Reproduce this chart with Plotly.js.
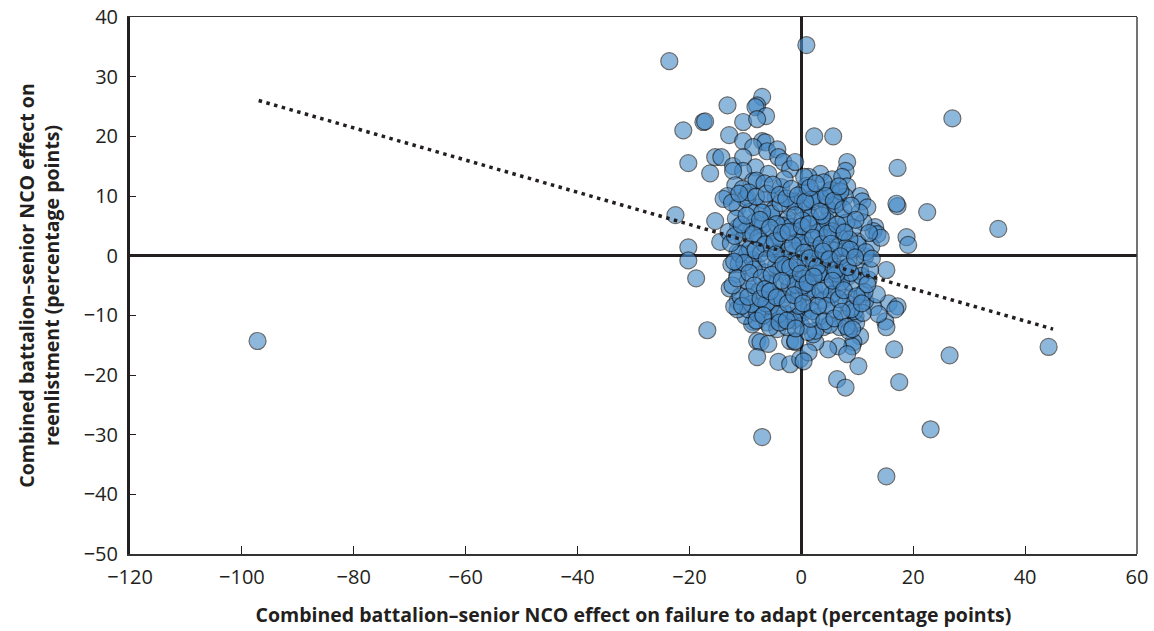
<!DOCTYPE html>
<html>
<head>
<meta charset="utf-8">
<script src="https://cdn.plot.ly/plotly-3.0.1.min.js"></script>
<style>
  html, body { margin: 0; padding: 0; background: #fff; }
  #chart { width: 1154px; height: 631px; }
</style>
</head>
<body>
<div id="chart"></div>
<script>
// Battalion–senior NCO combined effects: failure to adapt (x) vs. reenlistment (y), percentage points
const failureToAdapt = [
  // outlying pairs
  -97.2, -23.6, 0.9, 27.0, 35.2, 44.2, 26.5, 23.1, 15.2, -7.0, -21.1, -20.2, -22.5, -20.2, -20.2, -18.8, -16.8,
  22.5, 17.2, 17.2, 17.0, 18.8, 19.1, 15.2, 15.6, 17.2, 15.0, 15.2, 16.6, 17.5,
  // upper fringe
  -13.2, -7.0, -7.9, -8.2, -6.3, -10.4, -7.9, -17.5, -17.2, 2.3, 5.7, -12.9, -10.4, -7.0, -6.4, -8.6,
  -15.4, -14.3, -16.3, -12.2, -10.4, -6.1, -4.3, -4.1, -8.2, -10.4, -12.2, -11.8, -13.2, -8.6, -5.9, -3.2, -2.0,
  8.2, 7.9, 3.4, -1.1, 5.5, 7.3, 8.2, 1.3, 10.5, 4.8, 2.5, 0.2,
  // left half of the cluster
  -13.9, -15.4, -14.5, -11.4, -11.3, -11.4, -11.4, -11.4, -7.9, -5.2, -8.8, -7.3, -9.7, -7.9, -9.5, -7.7,
  -4.3, -4.1, -2.5, -2.0, -4.6, -1.4, -2.5, -5.0, -0.7, -9.7,
  // right half of the cluster
  10.9, 11.8, 13.2, 12.9, 13.6, 11.1, 10.0, 11.4, 10.5, 9.1, 6.6, 4.8, 7.3, 1.3, 0.2, 2.5, 4.8, 6.6, 8.2, 6.4,
  3.8, 1.3, -0.5, 2.5, 5.5, 8.8, 10.9, 12.9, 11.4, 3.8, 2.0, -1.1, 4.6,
  // lower fringe
  -8.6, -8.8, -10.0, -7.9, -7.3, -5.9, -7.9, -4.1, -2.0, -5.0, -3.8, -2.0, -0.7, -2.0, -1.1, -0.2, -11.4, -9.5, -7.0,
  0.4, 7.3, 9.7, 13.8, 16.8, 10.5, 9.3, 9.1, 6.6, 4.8, 2.5, 1.3, 0.4, -1.1, 8.2, 10.2, 6.4, 7.9, 3.9, 2.1,
  -12.5, -12.8, -13.0, -12.0, 12.0, 13.5, 12.5, 14.2,
  // dense core
  -10.5, -9.1, -8.3, -6.7, -5.8, -4.9, -3.6, -3.1, -2.4, -1.6, -0.8, 0.3, 1.1, 1.9, 2.7, 3.5, 4.2, 5.1, 5.9, 6.8,
  7.6, 8.4, 9.3, 10.1, -11.2, -10.4, -9.6, -8.7, -7.5, -6.4, -5.5, -4.7, -3.8, -2.9, -2.1, -1.2, -0.4, 0.6, 1.4, 2.3,
  3.2, 4.0, 4.9, 5.7, 6.5, 7.3, 8.1, 9.0, 9.8, 10.7, 11.5, -11.7, -10.9, -10.0, -9.2, -8.0, -7.2, -6.1, -5.2, -4.3,
  -3.3, -2.6, -1.7, -0.9, 0.0, 0.9, 1.7, 2.5, 3.4, 4.3, 5.2, 6.0, 6.9, 7.8, 8.6, 9.5, 10.4, 11.3, 12.1, -12.3,
  -7.9, -6.9, -5.0, -4.1, -3.4, -2.2, -1.4, -0.2, 0.8, 1.6, 2.4, 3.1, 3.9, 4.6, 5.4, 6.2, 7.1, 7.9, 8.8, -9.9,
  -8.5, -7.7, -6.0, -5.4, -4.5, -3.7, -2.8, -1.9, -1.0, 0.2, 1.0, 1.8, 2.9, 3.7, 4.5, 5.5, 6.3, 7.0, 8.0, -11.0,
  -6.6, -3.0, 0.5, 4.0, -8.9, -6.3, -2.5, 1.2, 5.0, 8.5, 11.0, 12.3, -12.6, -0.5, 2.0, -4.0, 3.0, -1.5, 0.4,
  -9.4, -8.1, -7.0, -6.2, -5.1, -4.4, -3.9, -2.7, -1.8, -0.6, 0.7, 1.5, 2.6, 3.3, 4.4, 5.8, 6.7, 7.5, 8.9, 9.7,
  -11.9, -10.7, -9.8, -8.6, -7.4, -6.5, -5.6, -4.8, -3.5, -2.3, -1.1, 0.1, 1.3, 2.1, 3.6, 4.7, 5.3, 6.4, 7.7, 8.7,
  -11.5, -10.2, -9.3, -8.2, -7.1, -6.2, -5.3, -4.6, -3.2, -2.0, -0.7, 0.5, 1.5, 2.8, 3.9, 5.0, 6.1, 7.0, 8.3, 9.6,
  -10.6, -9.5, -8.4, -7.3, -6.5, -5.6, -4.4, -3.5, -2.4, -1.3, -0.1, 1.1, 2.2, 3.4, 4.5, 5.6, 6.7, 7.6, 8.9, 9.9,
  -8.0, -6.8, -5.6, -3.9, -2.6, -1.0, 0.3, 1.7, 3.0, 4.1, 5.9, 7.2, 8.1, -12.0, -12.4, -11.1, 9.1, 10.8, 11.8, 12.6
];
const reenlistment = [
  -14.3, 32.6, 35.3, 23.0, 4.5, -15.3, -16.7, -29.1, -37.0, -30.4, 21.0, 15.5, 6.8, 1.4, -0.8, -3.8, -12.5,
  7.3, 14.7, 8.3, 8.7, 3.1, 1.8, -2.4, -8.0, -8.5, -11.0, -12.0, -15.7, -21.2,
  25.2, 26.6, 25.2, 24.9, 23.4, 22.4, 22.9, 22.4, 22.5, 20.0, 20.0, 20.2, 19.2, 19.2, 19.0, 18.2,
  16.5, 16.5, 13.8, 15.0, 16.5, 17.5, 17.8, 16.5, 14.8, 14.2, 14.2, 11.8, 10.0, 12.5, 13.7, 15.7, 14.5,
  15.7, 14.2, 13.7, 15.7, 12.8, 13.2, 11.6, 13.2, 10.0, 10.6, 10.3, 10.6,
  9.5, 5.8, 2.3, 8.1, 4.8, 0.6, -3.1, -7.6, 8.1, 6.4, 4.8, 2.4, 0.3, -1.8, -6.0, -8.1,
  0.6, -2.6, 5.3, 8.1, 9.8, -3.6, -6.5, -7.6, 2.4, 9.8,
  9.1, 8.1, 4.8, 4.1, 3.6, 5.6, 2.4, -0.1, -2.6, 0.8, 9.1, 5.3, 4.1, 7.0, 3.1, 0.8, -0.9, 1.4, -3.6, -3.9,
  -3.1, -4.3, -7.0, -6.8, -6.5, -7.0, -6.5, -8.6, -7.6, 4.8, 9.1, 9.1, 8.1,
  -11.1, -11.5, -10.1, -14.3, -14.5, -14.8, -17.0, -17.8, -18.2, -10.6, -10.6, -10.1, -10.3, -14.3, -14.5, -17.3, -9.0, -9.0, -9.0,
  -9.5, -10.6, -10.1, -9.8, -9.0, -13.5, -14.5, -15.2, -15.2, -15.7, -14.5, -16.2, -17.7, -14.3, -16.5, -18.5, -20.7, -22.1, -12.0, -13.2,
  -1.5, -5.5, 4.0, -8.5, -4.0, -6.5, 1.5, 3.0,
  11.2, 7.4, 5.6, 9.3, 3.9, 7.7, 11.5, 2.7, 6.1, -0.9, 4.4, 7.9, 1.6, -2.3, 5.2, -0.4, 2.9, 7.6, -1.7, 3.4,
  6.3, -0.8, 4.7, 1.9, -1.4, 2.8, -4.3, -0.7, -5.9, -2.8, -8.4, -4.6, -0.2, -9.7, -5.1, -2.6, -6.3, -3.8, -8.9, -5.6,
  -10.2, -7.4, -3.1, -9.0, -5.4, -2.2, -7.9, -4.6, -11.3, -3.4, 0.6, 6.2, -6.8, 9.5, 1.1, 12.6, 0.4, -11.2, 1.5, -12.3,
  5.0, -3.5, 9.1, 0.8, -11.8, 11.7, 3.6, -12.6, 9.7, -5.0, 11.0, 0.9, -12.0, 9.9, 2.7, -9.3, 7.2, -6.1, 3.8, -5.0,
  -9.6, 5.1, -6.7, 3.2, -7.3, 0.9, -10.8, 2.2, -1.1, 6.4, -0.7, 3.9, -2.7, 5.8, -6.5, 8.6, -4.4, 1.3, -2.9, 4.2,
  -2.3, 3.0, -4.7, 7.0, -1.6, 8.8, -1.9, 4.8, -4.9, 5.9, -6.0, 9.4, 1.1, 6.7, 0.2, 4.1, -3.0, 10.8, 5.5, 0.3,
  12.1, 12.8, 13.2, 12.3, -8.1, -8.0, -12.0, -12.8, -11.6, -12.6, -9.6, -2.4, 2.1, -8.4, -9.3, -9.8, -3.0, 1.8, -5.0,
  10.6, 9.9, 7.2, 10.4, 11.9, 5.3, 10.2, 9.6, 11.2, 10.1, 9.0, 11.4, 12.1, 7.4, 10.0, 9.2, 11.6, 7.8, 8.4, 6.0,
  3.3, 5.2, 6.7, 3.6, 6.0, 1.9, 4.7, 2.4, 3.8, 4.0, 6.8, 4.9, 5.3, 3.0, 1.9, 3.7, 2.0, 5.2, 3.9, 1.0,
  -3.8, -1.2, -2.9, 0.9, -3.7, -0.6, -3.2, 0.2, -1.5, -2.0, -1.3, 0.5, -0.4, -1.9, 0.7, -0.6, -2.4, -0.1, -1.9, -0.3,
  -8.4, -6.9, -5.0, -7.2, -5.6, -6.0, -7.0, -4.2, -8.0, -6.6, -3.0, -4.6, -3.5, -5.9, -8.4, -4.2, -7.3, -5.8, -9.0, -6.8,
  -10.9, -10.0, -12.0, -11.2, -10.9, -12.2, -8.0, -10.6, -8.4, -11.0, -10.5, -9.4, -11.9, -1.0, 8.9, 10.4, -12.3, -8.0, -4.8, -0.5
];

// Fitted linear trend, end points
const trendX = [-97, 45];
const trendY = [26.0, -12.3];

const xTicks = [-120, -100, -80, -60, -40, -20, 0, 20, 40, 60];
const yTicks = [-50, -40, -30, -20, -10, 0, 10, 20, 30, 40];

const ink = '#231f20';
const font = 'Open Sans, Noto Sans, DejaVu Sans, sans-serif';

const traces = [
  {
    x: failureToAdapt,
    y: reenlistment,
    type: 'scatter',
    mode: 'markers',
    marker: {
      size: 17,
      color: '#4a8cc8',
      opacity: 0.62,
      line: { color: '#111', width: 1.2 }
    },
    hoverinfo: 'x+y'
  },
  {
    x: trendX,
    y: trendY,
    type: 'scatter',
    mode: 'lines',
    line: { color: ink, width: 3.5, dash: '3.5px,4.5px' },
    hoverinfo: 'skip'
  }
];

const layout = {
  width: 1154,
  height: 631,
  margin: { l: 130, r: 17, t: 17, b: 77 },
  paper_bgcolor: '#fff',
  plot_bgcolor: '#fff',
  showlegend: false,
  font: { family: font, color: ink, size: 20 },
  xaxis: {
    range: [-120, 60],
    tickvals: xTicks,
    ticks: 'inside',
    ticklen: 8,
    tickwidth: 1,
    tickcolor: ink,
    ticklabelstandoff: 4,
    showgrid: false,
    zeroline: true,
    zerolinecolor: ink,
    zerolinewidth: 3.5,
    showline: true,
    linecolor: '#333',
    linewidth: 1.5,
    mirror: true,
    tickfont: { size: 20, color: ink },
    title: {
      text: '<b>Combined battalion–senior NCO effect on failure to adapt (percentage points)</b>',
      font: { size: 19.5, color: ink },
      standoff: 20
    }
  },
  yaxis: {
    range: [-50, 40],
    tickvals: yTicks,
    ticks: 'inside',
    ticklen: 6,
    tickwidth: 1,
    tickcolor: ink,
    ticklabelstandoff: 5,
    showgrid: false,
    zeroline: true,
    zerolinecolor: ink,
    zerolinewidth: 3.5,
    showline: true,
    linecolor: ink,
    linewidth: 3,
    tickfont: { size: 20, color: ink },
    title: {
      text: '<b>Combined battalion–senior NCO effect on<br>reenlistment (percentage points)</b>',
      font: { size: 19.5, color: ink },
      standoff: 19
    }
  },
  shapes: [
    {
      type: 'line', xref: 'paper', yref: 'paper',
      x0: 1, x1: 1, y0: 0, y1: 1,
      line: { color: '#444', width: 1.5 }
    }
  ]
};

Plotly.newPlot('chart', traces, layout, { displayModeBar: false, staticPlot: true });
</script>
</body>
</html>
